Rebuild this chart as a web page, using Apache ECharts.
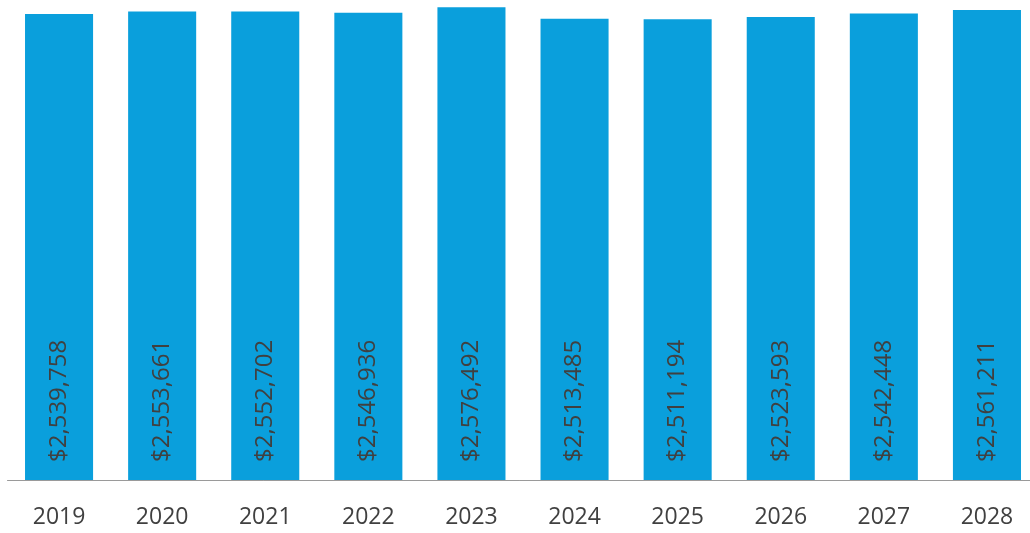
<!DOCTYPE html>
<html>
<head>
<meta charset="utf-8">
<script src="https://cdn.jsdelivr.net/npm/echarts@6/dist/echarts.min.js"></script>
<style>
  html, body { margin: 0; padding: 0; background: #fff; }
  #chart { width: 1030px; height: 533px; }
</style>
</head>
<body>
<div id="chart"></div>
<script>
// 数据
const years = ['2019', '2020', '2021', '2022', '2023', '2024', '2025', '2026', '2027', '2028'];
const values = [2539758, 2553661, 2552702, 2546936, 2576492, 2513485, 2511194, 2523593, 2542448, 2561211];

let myChart = echarts.init(document.getElementById('chart'));

let options = {
  backgroundColor: '#fff',
  animation: false,
  grid: {
    left: 7.5,
    right: -8.5,
    top: 0,
    bottom: 53,
    outerBoundsMode: 'none'
  },
  xAxis: {
    type: 'category',
    data: years,
    axisLine: {
      lineStyle: { color: '#9a9a9a', width: 1 }
    },
    axisTick: { show: false },
    axisLabel: {
      color: '#404040',
      fontFamily: 'Open Sans',
      fontSize: 23,
      margin: 26
    }
  },
  yAxis: {
    type: 'value',
    min: 0,
    max: 2616000,
    show: false,
    splitLine: { show: false }
  },
  series: [{
    type: 'bar',
    data: values,
    barCategoryGap: '34%',
    itemStyle: { color: '#0a9fdc' },
    label: {
      show: true,
      position: 'insideBottom',
      rotate: 90,
      align: 'left',
      verticalAlign: 'middle',
      distance: 18,
      color: '#404040',
      fontFamily: 'Open Sans',
      fontSize: 24,
      formatter: function (p) {
        return '$' + p.value.toLocaleString('en-US');
      }
    }
  }]
};

myChart.setOption(options);
</script>
</body>
</html>
